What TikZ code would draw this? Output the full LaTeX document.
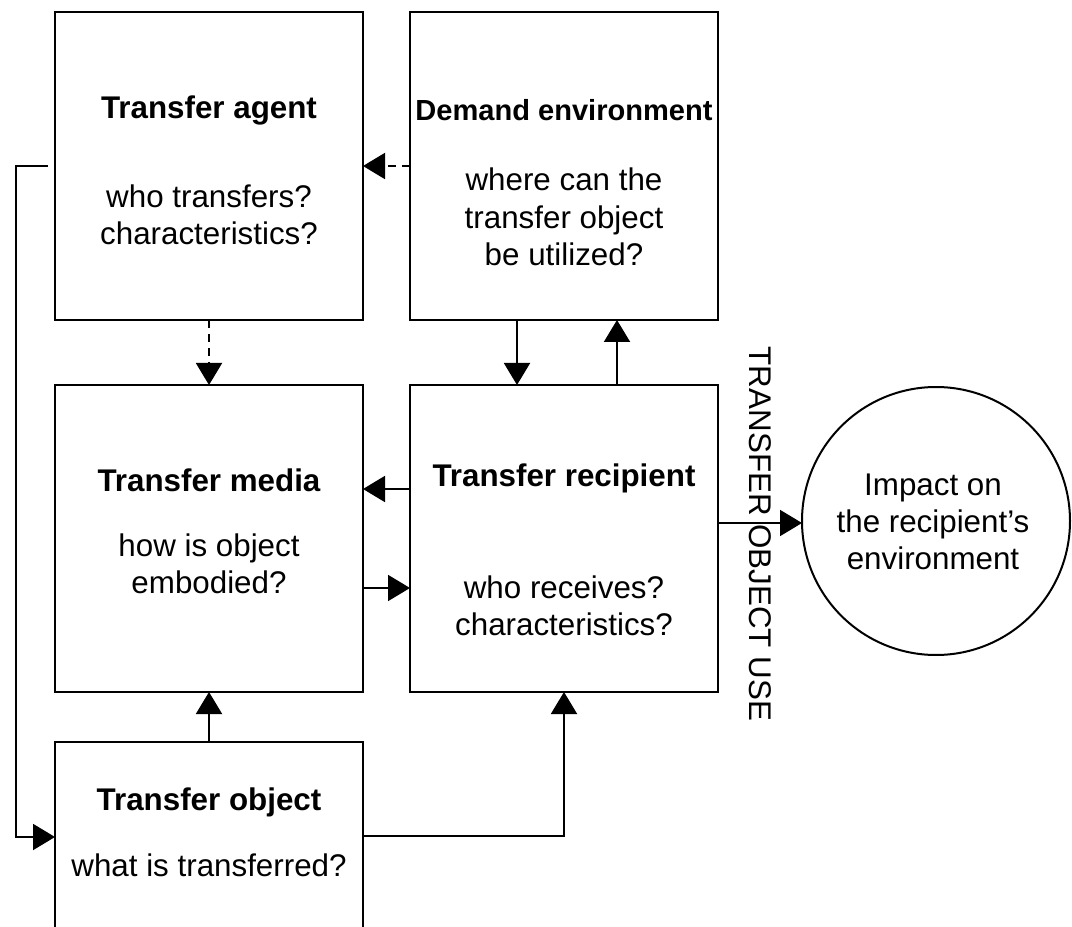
\documentclass[tikz,border=0pt]{standalone}
\usepackage{fontspec}
\setmainfont{Liberation Sans}
\usetikzlibrary{arrows.meta}
\newcommand\myfs{\fontsize{23.5}{28}\selectfont}
\begin{document}
\begin{tikzpicture}[x=0.75pt,y=-0.75pt,
  box/.style={draw, line width=1.6pt, minimum width=231pt, minimum height=231pt, inner sep=0pt, outer sep=0pt},
  txt/.style={align=center, font=\myfs, inner sep=0pt},
  ttl/.style={align=center, font=\myfs\bfseries, inner sep=0pt},
  arr/.style={line width=1.5pt, -{Triangle[length=16.5pt,width=19.5pt]}},
  darr/.style={arr, dash pattern=on 6pt off 4.5pt}]
\clip (0,0) rectangle (1072,927);
\fill[white] (0,0) rectangle (1072,927);

\node[box] (agent) at (209,166) {};
\node[box] (demand) at (564,166) {};
\node[box, minimum height=230.25pt] (media) at (209,538.5) {};
\node[box, minimum height=230.25pt] (recipient) at (564,538.5) {};
\node[box] (object) at (209,896) {};
\node[draw, circle, line width=1.5pt, minimum size=201pt, inner sep=0pt, outer sep=0pt] (impact) at (936,521) {};

\node[ttl] (agentT) at (209,110) {Transfer agent};
\node[txt] (agentQ) at (209,215) {who transfers?\\characteristics?};
\node[align=center, font=\fontsize{21.8}{26}\selectfont\bfseries, inner sep=0pt] (demandT) at (564,110) {Demand environment};
\node[txt] (demandQ) at (564,217) {where can the\\transfer object\\be utilized?};
\node[ttl] (mediaT) at (209,480) {Transfer media};
\node[txt] (mediaQ) at (209,564) {how is object\\embodied?};
\node[ttl] (recT) at (564,478) {Transfer recipient};
\node[txt] (recQ) at (564,606) {who receives?\\characteristics?};
\node[ttl] (objT) at (209,802) {Transfer object};
\node[txt] (objQ) at (209,865) {what is transferred?};
\node[txt] (impactT) at (933,522) {Impact on\\the recipient’s\\environment};
\node[txt, rotate=-90] (useT) at (760,534) {TRANSFER OBJECT USE};

\draw[darr] (demand.west) -- (agent.east);
\draw[darr] (agent.south) -- (media.north);
\draw[arr] ([xshift=-35.25pt]demand.south) -- ([xshift=-35.25pt]recipient.north);
\draw[arr] ([xshift=39.75pt]recipient.north) -- ([xshift=39.75pt]demand.south);
\draw[arr] (recipient.west |- 0,489) -- (media.east |- 0,489);
\draw[arr] (media.east |- 0,588) -- (recipient.west |- 0,588);
\draw[arr] (object.north) -- (media.south);
\draw[arr] (object.east |- 0,836) -| (recipient.south);
\coordinate (loopc) at (16,837);
\draw[arr] ([xshift=-5.25pt]agent.west) -| (loopc) -- (object.west |- loopc);
\draw[arr] (recipient.east |- 0,523) -- (impact.west |- 0,523);
\end{tikzpicture}
\end{document}
